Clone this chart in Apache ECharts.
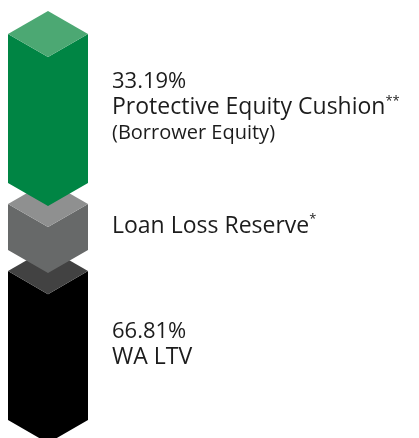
<!DOCTYPE html>
<html>
<head>
<meta charset="utf-8">
<style>
  html, body { margin: 0; padding: 0; background: #fff; }
  #chart { width: 419px; height: 438px; }
</style>
<script src="https://cdn.jsdelivr.net/npm/echarts@6/dist/echarts.min.js"></script>
</head>
<body>
<div id="chart"></div>
<script>
// blocks, bottom to top
const blockNames = ['WA LTV', 'Loan Loss Reserve', 'Protective Equity Cushion']
const blockPercents = ['66.81%', '', '33.19%']
const blockNotes = ['', '*', '**']
const blockSubtitles = ['', '', '(Borrower Equity)']
// drawn height of each block (not to scale with the percentages)
const blockHeights = [3.24, 1, 3.24]
const blockGap = 0.46

const sideColors = ['#000000', '#676969', '#008544']
const topColors = ['#424242', '#8f9090', '#4ca873']

let start = 0
const blocks = blockHeights.map((h, i) => {
  const item = [0, start, start + h, i]
  start += h + blockGap
  return item
})
const yMax = start - blockGap

const labelText = (i) => {
  const lines = []
  if (blockPercents[i]) lines.push('{pct|' + blockPercents[i] + '}')
  lines.push('{name|' + blockNames[i] + '}' + (blockNotes[i] ? '{sup|' + blockNotes[i] + '}' : ''))
  if (blockSubtitles[i]) lines.push('{sub|' + blockSubtitles[i] + '}')
  return lines.join('\n')
}

const font = 'Open Sans'
const ink = '#1c1c1c'

const renderBlock = (params, api) => {
  const i = api.value(3)
  const bottom = api.coord([api.value(0), api.value(1)])
  const top = api.coord([api.value(0), api.value(2)])
  const half = api.size([1, 0])[0] / 2
  const dh = half * Math.tan(Math.PI / 6)
  const c = bottom[0], l = c - half, r = c + half
  const yT = top[1], yB = bottom[1]
  return {
    type: 'group',
    children: [
      {
        type: 'polygon',
        shape: { points: [[l, yT], [c, yT + dh], [r, yT], [r, yB], [c, yB + dh], [l, yB]] },
        style: { fill: sideColors[i] }
      },
      {
        type: 'polygon',
        shape: { points: [[l, yT], [c, yT - dh], [r, yT], [c, yT + dh]] },
        style: { fill: topColors[i] }
      },
      {
        type: 'text',
        x: r + 24,
        y: (yT + yB) / 2 - 1,
        style: {
          text: labelText(i),
          verticalAlign: 'middle',
          align: 'left',
          fill: ink,
          fontFamily: font,
          rich: {
            pct: { fontSize: 22, lineHeight: 26, fontFamily: font, fill: ink },
            name: { fontSize: 23, lineHeight: 26, fontFamily: font, fill: ink },
            sup: { fontSize: 13, lineHeight: 26, verticalAlign: 'top', fontFamily: font, fill: ink },
            sub: { fontSize: 20, lineHeight: 26, fontFamily: font, fill: ink }
          }
        }
      }
    ]
  }
}

const chart = echarts.init(document.getElementById('chart'))
chart.setOption({
  animation: false,
  grid: { left: 8, width: 80, top: 34, bottom: 18 },
  xAxis: { type: 'category', data: ['stack'], show: false },
  yAxis: { type: 'value', min: 0, max: yMax, show: false },
  series: [{
    type: 'custom',
    renderItem: renderBlock,
    clip: false,
    data: blocks
  }]
})
</script>
</body>
</html>
